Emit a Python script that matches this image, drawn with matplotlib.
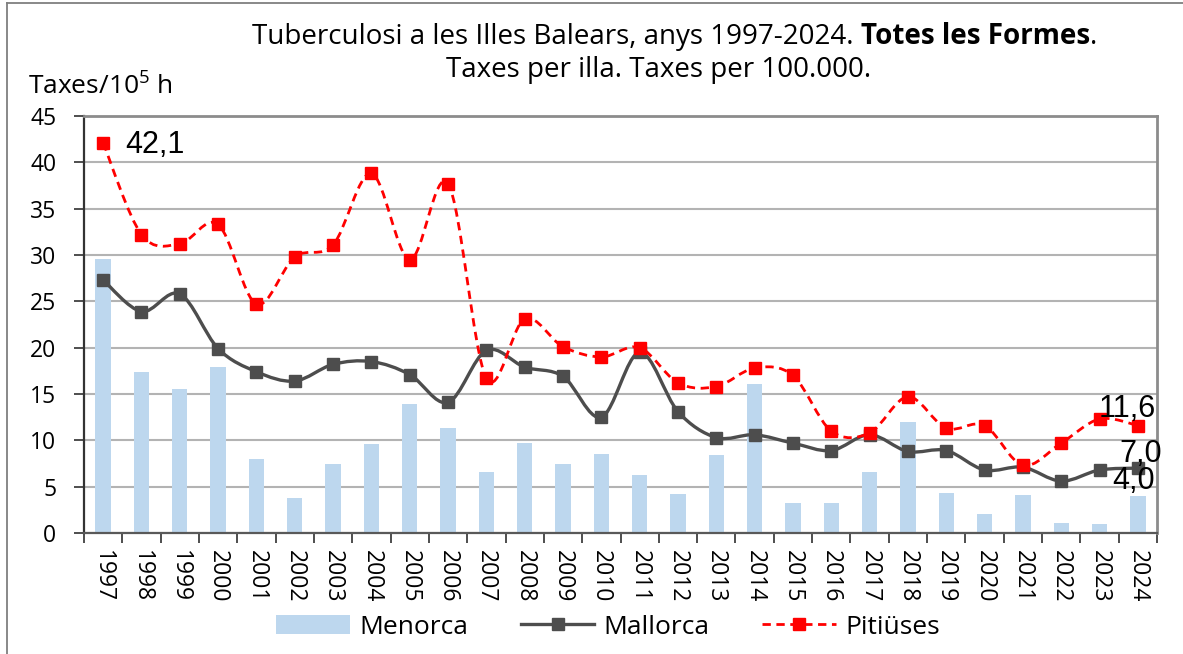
import matplotlib
matplotlib.use('Agg')
from matplotlib import pyplot as plt
from matplotlib.path import Path
from matplotlib.patches import PathPatch, Patch
from matplotlib.lines import Line2D
import numpy as np

years = ['1997', '1998', '1999', '2000', '2001', '2002', '2003', '2004', '2005', '2006',
         '2007', '2008', '2009', '2010', '2011', '2012', '2013', '2014', '2015', '2016',
         '2017', '2018', '2019', '2020', '2021', '2022', '2023', '2024']
menorca = [29.6, 17.4, 15.5, 17.9, 8.0, 3.8, 7.4, 9.6, 13.9, 11.3,
           6.6, 9.7, 7.5, 8.5, 6.3, 4.2, 8.4, 16.1, 3.2, 3.2,
           6.6, 12.0, 4.3, 2.1, 4.1, 1.1, 1.0, 4.0]
mallorca = [27.3, 23.9, 25.8, 19.9, 17.4, 16.4, 18.2, 18.5, 17.1, 14.1,
            19.7, 17.9, 16.9, 12.5, 19.5, 13.1, 10.3, 10.6, 9.7, 8.9,
            10.6, 8.8, 8.9, 6.8, 7.1, 5.6, 6.8, 7.0]
pitiuses = [42.1, 32.2, 31.2, 33.3, 24.7, 29.8, 31.1, 38.8, 29.5, 37.7,
            16.7, 23.1, 20.1, 19.0, 20.0, 16.2, 15.8, 17.8, 17.0, 11.0,
            10.8, 14.7, 11.3, 11.6, 7.3, 9.7, 12.3, 11.6]
yticks = [0, 5, 10, 15, 20, 25, 30, 35, 40, 45]

BLUE = '#bdd7ee'
GREY = '#4d4d4d'
RED = '#ff0000'


def smooth_path(xs, ys):
    # excel style smoothed line: bezier segments through every point
    pts = np.column_stack([xs, ys]).astype(float)
    n = len(pts)
    verts = [pts[0]]
    codes = [Path.MOVETO]
    for i in range(n - 1):
        p0 = pts[max(i - 1, 0)]
        p1 = pts[i]
        p2 = pts[i + 1]
        p3 = pts[min(i + 2, n - 1)]
        verts += [p1 + (p2 - p0) / 6, p2 - (p3 - p1) / 6, p2]
        codes += [Path.CURVE4] * 3
    return Path(verts, codes)


plt.rcParams['font.family'] = ['Open Sans', 'DejaVu Sans']
plt.rcParams['mathtext.fontset'] = 'custom'
plt.rcParams['mathtext.rm'] = 'Open Sans'

fig = plt.figure(figsize=(11.83, 6.54), dpi=100)
ax = fig.add_axes([84 / 1183, 1 - 533 / 654, (1157 - 84) / 1183, (533 - 116) / 654])

x = np.arange(len(years))
ax.bar(x, menorca, width=0.4, color=BLUE, zorder=2)

ax.add_patch(PathPatch(smooth_path(x, mallorca), facecolor='none', edgecolor=GREY,
                       linewidth=2.4, zorder=3))
ax.plot(x, mallorca, linestyle='none', marker='s', markersize=8, color=GREY, zorder=4)

ax.add_patch(PathPatch(smooth_path(x, pitiuses), facecolor='none', edgecolor=RED,
                       linewidth=2.0, linestyle=(0, (3, 2)), zorder=5))
ax.plot(x, pitiuses, linestyle='none', marker='s', markersize=8, color=RED, zorder=6)

ax.set_xlim(-0.5, len(years) - 0.5)
ax.set_ylim(0, 45)
ax.set_yticks(yticks)
ax.tick_params(axis='y', direction='out', length=7, width=1.3, color='#404040',
               labelsize=16.5, pad=13)
ax.set_xticks(np.arange(len(years) + 1) - 0.5)
ax.set_xticklabels([])
ax.set_xticks(x, minor=True)
ax.set_xticklabels(years, minor=True, rotation=-90)
ax.tick_params(axis='x', which='major', direction='out', length=7, width=1.3, color='#404040')
ax.tick_params(axis='x', which='minor', length=0, labelsize=16.5, pad=12)

ax.yaxis.grid(True, color='#b3b3b3', linewidth=1.5)
ax.set_axisbelow(True)
ax.spines['left'].set_color('#333333')
ax.spines['left'].set_linewidth(1.6)
ax.spines['bottom'].set_color('#595959')
ax.spines['bottom'].set_linewidth(1.6)
ax.spines['top'].set_color('#8c8c8c')
ax.spines['top'].set_linewidth(2)
ax.spines['right'].set_color('#8c8c8c')
ax.spines['right'].set_linewidth(2)

# data labels
lab = dict(family=['Liberation Sans', 'DejaVu Sans'], fontsize=22, color='black', zorder=7)
ax.annotate('42,1', (x[0], pitiuses[0]), xytext=(16, -1.5), textcoords='offset points',
            ha='left', va='center', **lab)
ax.annotate('11,6', (x[-1], pitiuses[-1]), xytext=(-7.5, 12), textcoords='offset points',
            ha='center', va='center', **lab)
ax.annotate('7,0', (x[-1], mallorca[-1]), xytext=(2, 10), textcoords='offset points',
            ha='center', va='center', **lab)
ax.annotate('4,0', (x[-1], menorca[-1]), xytext=(-3, 11), textcoords='offset points',
            ha='center', va='center', **lab)

# title, first line has a bold part
fs = 20
ty = 1 - 37 / 654
t1 = fig.text(0, ty, 'Tuberculosi a les Illes Balears, anys 1997-2024.', fontsize=fs,
              va='center', ha='left')
t2 = fig.text(0, ty, 'Totes les Formes', fontsize=fs, fontweight='bold', va='center', ha='left')
t3 = fig.text(0, ty, '.', fontsize=fs, va='center', ha='left')
renderer = fig.canvas.get_renderer()
w1 = t1.get_window_extent(renderer).width
w2 = t2.get_window_extent(renderer).width
w3 = t3.get_window_extent(renderer).width
gap = 0.27 * fs * 100 / 72
start = 675 - (w1 + gap + w2 + w3) / 2
t1.set_x(start / 1183)
t2.set_x((start + w1 + gap) / 1183)
t3.set_x((start + w1 + gap + w2) / 1183)
fig.text(659 / 1183, 1 - 70 / 654, 'Taxes per illa. Taxes per 100.000.', fontsize=fs,
         ha='center', va='center')

fig.text(28 / 1183, 1 - 86 / 654, r'Taxes/10$^{\mathregular{5}}$ h', fontsize=19,
         ha='left', va='center')

handles = [Patch(facecolor=BLUE, edgecolor='none'),
           Line2D([], [], color=GREY, linewidth=2.4, marker='s', markersize=8),
           Line2D([], [], color=RED, linewidth=2.0, linestyle=(0, (3, 2)), marker='s', markersize=8)]
fig.legend(handles, ['Menorca', 'Mallorca', 'Pitiüses'], loc='center',
           bbox_to_anchor=(608 / 1183, 1 - 627 / 654), ncol=3, frameon=False,
           fontsize=19, handlelength=2.8, handletextpad=0.35, columnspacing=2.0)

# frame of the picture
fig.add_artist(Line2D([7 / 1183, 7 / 1183], [0, 1 - 3 / 654], color='#7f7f7f', linewidth=1.3))
fig.add_artist(Line2D([7 / 1183, 1], [1 - 3 / 654, 1 - 3 / 654], color='#7f7f7f', linewidth=1.3))

fig.savefig('out.png', dpi=100)
